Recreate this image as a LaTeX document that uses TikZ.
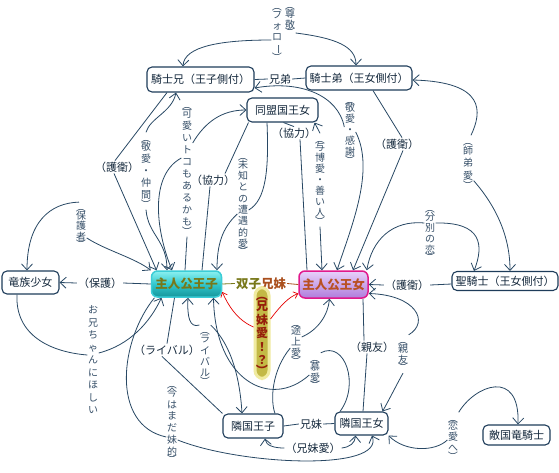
\documentclass[tikz,border=0pt]{standalone}
\usepackage{fontspec}
\setmainfont{Noto Sans CJK JP}
\usetikzlibrary{arrows.meta}
\definecolor{boxc}{RGB}{30,60,90}
\definecolor{txtc}{RGB}{20,40,60}
\definecolor{vtc}{RGB}{55,80,105}
\definecolor{linec}{RGB}{40,72,100}
\definecolor{olivec}{RGB}{120,120,25}
\definecolor{brownc}{RGB}{170,80,30}
\definecolor{pzb}{RGB}{60,205,215}
\definecolor{pzt}{RGB}{140,240,240}
\definecolor{pzm}{RGB}{50,200,205}
\definecolor{pzbot}{RGB}{20,150,155}
\definecolor{pjb}{RGB}{225,25,140}
\definecolor{pjt}{RGB}{232,208,250}
\definecolor{pjbot}{RGB}{175,125,220}
\definecolor{pjtxt}{RGB}{185,80,35}
\definecolor{glowfill}{RGB}{195,185,70}
\definecolor{glowedge}{RGB}{240,235,160}
\definecolor{glowtxt}{RGB}{150,30,10}
\newcommand\myvfs[1]{\fontsize{10}{#1}\selectfont}
\newcommand\vlp{\rotatebox[origin=c]{-90}{（}}
\newcommand\vrp{\rotatebox[origin=c]{-90}{）}}
\newcommand\vbar{\rotatebox[origin=c]{-90}{ー}}
\begin{document}
\begin{tikzpicture}[x=1pt,y=-1pt,
 box/.style={draw=boxc,line width=1.1pt,rounded corners=5pt,fill=white,inner sep=0pt,text=txtc,font=\fontsize{11}{13}\selectfont},
 hl/.style={text=txtc,inner sep=1pt,font=\fontsize{11}{13}\selectfont},
 vl/.style={text=vtc,align=center,inner sep=0.5pt,font=\myvfs{11}},
 rel/.style={draw=linec,line width=0.8pt},
 arr/.style={-{Straight Barb[length=6pt,width=11pt]}},
 rarr/.style={draw=red!90!black,line width=0.7pt,-{Straight Barb[length=4pt,width=7pt]}}
]
\fill[white] (0,0) rectangle (559,472);
\useasboundingbox (0,0) rectangle (559,472);

% main boxes
\node[box,minimum width=107pt,minimum height=25pt] (kn) at (200.5,79.5) {騎士兄（王子側付）};
\node[box,minimum width=106pt,minimum height=24pt] (ko) at (359,78) {騎士弟（王女側付）};
\node[box,minimum width=71pt,minimum height=24pt] (dm) at (282.5,110) {同盟国王女};
\node[box,minimum width=57pt,minimum height=23pt] (ry) at (30.5,282.5) {竜族少女};
\node[box,minimum width=106pt,minimum height=19pt] (sk) at (505,281) {聖騎士（王女側付）};
\node[box,minimum width=60pt,minimum height=24pt] (rz) at (253,426) {隣国王子};
\node[box,minimum width=53pt,minimum height=23pt] (rj) at (361.5,423.5) {隣国王女};
\node[box,minimum width=67pt,minimum height=20pt] (tk) at (516.5,435) {敵国竜騎士};
\node[draw=pzb,line width=1.5pt,rounded corners=6pt,top color=pzt,bottom color=pzbot,middle color=pzm,
  minimum width=70pt,minimum height=26pt,inner sep=0pt,text=olivec,font=\bfseries\fontsize{12.5}{14}\selectfont] (pz) at (186.5,284) {主人公王子};
\node[draw=pjb,line width=1.5pt,rounded corners=6pt,top color=pjt,bottom color=pjbot,
  minimum width=69pt,minimum height=27pt,inner sep=0pt,text=pjtxt,font=\bfseries\fontsize{12.5}{14}\selectfont] (pj) at (333.5,284.5) {主人公王女};

% horizontal labels
\node[hl] (lkd) at (280,79) {兄弟};
\node[hl] (lkm2) at (311,424) {兄妹};
\node[inner sep=1pt,font=\bfseries\fontsize{12.5}{14}\selectfont] (lsf) at (261,283.5) {\textcolor{olivec}{双子}\textcolor{brownc}{兄妹}};
\node[hl] (lhogo) at (100,283) {（保護）};
\node[hl] (lgo1) at (117,167) {（護衛）};
\node[hl] (lkyo1) at (213,180) {（協力）};
\node[hl] (lkyo2) at (294,133) {（協力）};
\node[hl] (lgo2) at (397,144) {（護衛）};
\node[hl] (lgo3) at (407,285) {（護衛）};
\node[hl] (lriv) at (167,350) {（ライバル）};
\node[hl] (lsy) at (372,347) {（親友）};
\node[hl] (lkm) at (313,448) {（兄妹愛）};

% vertical labels
\node[vl] (lf) at (277,32) {\vlp\\[-3pt]フ\\ォ\\ロ\\\vbar\\[-3pt]\vrp};
\node[vl] (ls) at (290,19) {\vlp\\[-3pt]尊\\敬\\[-3pt]\vrp};
\node[vl,font=\myvfs{12}] (lk1) at (146,171) {\vlp\\[-3pt]敬\\愛\\・\\仲\\間\\[-3pt]\vrp};
\node[vl,font=\myvfs{12}] (lka) at (187,168) {\vlp\\[-3pt]可\\愛\\い\\ト\\コ\\も\\あ\\る\\か\\も\\[-3pt]\vrp};
\node[vl,font=\myvfs{11.3}] (lmi) at (243,204) {\vlp\\[-3pt]未\\知\\と\\の\\遭\\遇\\的\\愛\\[-3pt]\vrp};
\node[vl] (lyo) at (320,180) {\vlp\\[-3pt]与\\博\\愛\\・\\善\\い\\人\\[-3pt]\vrp};
\node[vl] (lke) at (350,130) {\vlp\\[-3pt]敬\\愛\\・\\感\\謝\\[-3pt]\vrp};
\node[vl,font=\myvfs{12.5}] (lsh) at (468,163) {\vlp\\[-3pt]師\\弟\\愛\\[-3pt]\vrp};
\node[vl] (lfu) at (430,233) {\vlp\\[-3pt]分\\別\\の\\恋\\[-3pt]\vrp};
\node[vl,font=\myvfs{10.6}] (lho) at (81,226) {\vlp\\[-3pt]保\\護\\者\\[-3pt]\vrp};
\node[vl,font=\myvfs{12.5}] (lon) at (93,360) {お\\兄\\ち\\ゃ\\ん\\に\\ほ\\し\\い};
\node[vl,font=\myvfs{11.7}] (lim) at (172,422) {\vlp\\[-3pt]今\\は\\ま\\だ\\妹\\的\\[-3pt]\vrp};
\node[vl,font=\myvfs{11.3}] (lrv) at (205,356) {\vlp\\[-3pt]ラ\\イ\\バ\\ル\\[-3pt]\vrp};
\node[vl] (lto) at (296,342) {\vlp\\[-3pt]途\\上\\愛\\[-3pt]\vrp};
\node[vl] (lbo) at (315,372) {\vlp\\[-3pt]慕\\愛\\[-3pt]\vrp};
\node[vl] (lsy2) at (403,354) {\vlp\\[-3pt]親\\友\\[-3pt]\vrp};
\node[vl] (lre) at (453,437) {\vlp\\[-3pt]恋\\愛\\へ\\[-3pt]\vrp};
\node[draw=glowedge,line width=3pt,fill=glowfill,rounded corners=8pt,align=center,inner xsep=1pt,inner ysep=2pt,
  text=glowtxt,font=\bfseries\fontsize{12}{13.5}\selectfont] (lki) at (262,333) {\vlp\\[-3pt]兄\\妹\\愛\\！\\？\\[-3pt]\vrp};

% connectors
\draw[rel,arr] ([yshift=-8pt]lf.west) .. controls (222,40) and (184,46) .. ([xshift=-17.5pt]kn.north);
\draw[rel,arr] ([yshift=-14pt]ls.east) .. controls (335,38) and (356,46) .. ([xshift=-3pt]ko.north);
\draw[rel] (kn.east) -- (lkd.west) (lkd.east) -- (ko.west);
\draw[rel,arr] ([yshift=3pt]lke.west) .. controls (338,95) and (300,80) .. ([yshift=-8.5pt]kn.east);
\draw[rel,arr] ([yshift=-2pt]lke.east) .. controls (375,170) and (352,225) .. ([xshift=3.5pt]pj.north);
\draw[rel] ([xshift=14pt]ko.south) -- ([xshift=5pt]lgo2.north);
\draw[rel,arr] ([xshift=6pt]lgo2.south) -- ([xshift=19.5pt]pj.north);
\draw[rel,arr] ([xshift=3pt]lsh.north) .. controls (482,112) and (486,82) .. ([yshift=-2pt]ko.east);
\draw[rel,arr] ([yshift=10pt]lsh.south east) .. controls (495,205) and (510,235) .. ([xshift=5pt]sk.north);
\draw[rel,arr] ([yshift=10pt]lfu.west) .. controls (392,220) and (372,240) .. ([xshift=-2pt]pj.north east);
\draw[rel,arr] ([yshift=10pt]lfu.east) .. controls (482,222) and (484,245) .. ([xshift=-31pt]sk.north);
\draw[rel] ([yshift=-3pt]sk.west) -- (lgo3.east);
\draw[rel,arr] (lgo3.west) -- (pj.east);
\draw[rel] ([xshift=1pt]dm.south) -- (lkyo2.north);
\draw[rel] ([xshift=6pt]lkyo2.south) -- ([xshift=-26.5pt]pj.north);
\draw[rel,arr] (lyo.north) -- ([xshift=-4pt]dm.south east);
\draw[rel,arr] (lyo.south) -- ([xshift=-11.5pt]pj.north);
\draw[rel] ([xshift=-15.5pt]dm.south) .. controls (269,170) and (266,200) .. ([yshift=-6pt]lmi.east);
\draw[rel,arr] ([yshift=-10pt]lmi.west) .. controls (222,228) and (217,245) .. ([xshift=30.5pt]pz.north);
\draw[rel] ([xshift=2pt]dm.south west) -- ([xshift=12pt]lkyo1.north);
\draw[rel] ([xshift=-3pt]lkyo1.south) -- ([xshift=15.5pt]pz.north);
\draw[rel,arr] ([yshift=25pt]lka.east) .. controls (205,122) and (222,110) .. (dm.west);
\draw[rel,arr] ([yshift=10pt]lka.west) .. controls (150,175) and (155,228) .. ([xshift=-14.5pt]pz.north);
\draw[rel] (lka.south) -- ([xshift=-1.5pt]pz.north);
\draw[rel,arr] (lk1.north) .. controls (150,118) and (172,112) .. ([xshift=-24.5pt]kn.south);
\draw[rel,arr] (lk1.south) .. controls (148,235) and (167,240) .. ([xshift=-19.5pt]pz.north);
\draw[rel] ([xshift=-33.5pt]kn.south) -- ([xshift=-2pt]lgo1.north);
\draw[rel,arr] ([xshift=-3pt]lgo1.south) -- ([xshift=-30pt]pz.north);
\draw[rel,arr] ([xshift=-2pt]lho.north) .. controls (50,203) and (27,222) .. ([xshift=-3.5pt]ry.north);
\draw[rel,arr] ([yshift=12pt]lho.south east) .. controls (105,250) and (135,258) .. (pz.north west);
\draw[rel] (pz.west) -- (lhogo.east);
\draw[rel,arr] (lhogo.west) -- (ry.east);
\draw[rel] ([xshift=-13.5pt]ry.south) .. controls (15,335) and (50,352) .. ([yshift=5pt]lon.west);
\draw[rel,arr] ([yshift=7pt]lon.east) .. controls (130,345) and (150,322) .. ([xshift=-25pt]pz.south);
\draw[rel] ([xshift=-32pt]pz.south) .. controls (120,340) and (110,425) .. ([yshift=-15pt]lim.west);
\draw[rel,arr] ([yshift=-18pt]lim.east) .. controls (240,465) and (385,472) .. ([xshift=10.5pt]rj.south);
\draw[rel] ([xshift=-12pt]pz.south) -- (lriv.north);
\draw[rel] ([xshift=-5pt]lriv.south) -- (rz.north west);
\draw[rel,arr] (lrv.north west) .. controls (190,328) and (187,318) .. ([xshift=1.5pt]pz.south);
\draw[rel,arr] (lrv.north east) .. controls (232,345) and (240,380) .. ([xshift=-11pt]rz.north);
\draw[rel] (lbo.north east) .. controls (345,340) and (360,385) .. ([xshift=-21.5pt]rj.north);
\draw[rel,arr] ([yshift=-3pt]lbo.west) .. controls (270,410) and (215,380) .. ([xshift=27pt]pz.south);
\draw[rel,arr] ([yshift=5pt]lto.east) .. controls (318,330) and (328,315) .. ([xshift=-4pt]pj.south);
\draw[rel] ([yshift=-6pt]lto.west) .. controls (272,370) and (270,400) .. ([xshift=22pt]rz.north);
\draw[rel] ([xshift=-8pt]lsy.north) -- ([xshift=29.5pt]pj.south);
\draw[rel] ([xshift=-5pt]lsy.south) -- ([xshift=1.5pt]rj.north);
\draw[rel,arr] (lsy2.north east) .. controls (430,322) and (416,295) .. ([yshift=-9pt]pj.east);
\draw[rel,arr] (lsy2.south) .. controls (398,382) and (390,398) .. ([xshift=21pt]rj.north);
\draw[rel,arr] (lre.north east) .. controls (475,385) and (520,368) .. ([xshift=1.5pt]tk.north);
\draw[rel,arr] ([yshift=-3pt]lre.west) .. controls (435,452) and (405,452) .. (rj.south east);
\draw[rel,arr] (lkm.east) .. controls (350,447) and (355,443) .. ([xshift=-6pt]rj.south);
\draw[rel,arr] (lkm.west) .. controls (275,448) and (266,446) .. ([xshift=12pt]rz.south);
\draw[rel] (rz.east) -- (lkm2.west);
\draw[rel] (lkm2.east) -- (rj.west);
\draw[rel,draw=olivec] (pz.east) -- (lsf.west);
\draw[rel,draw=brownc] (lsf.east) -- (pj.west);
\draw[rarr] ([yshift=6pt]lki.west) .. controls (237,320) and (228,305) .. ([yshift=-8pt]pz.east);
\draw[rarr] ([yshift=14pt]lki.east) .. controls (281,305) and (289,297) .. ([yshift=-9pt]pj.west);
\end{tikzpicture}
\end{document}
